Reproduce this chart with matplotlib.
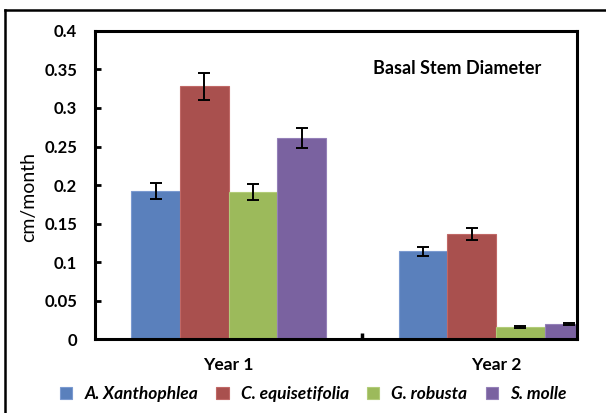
import numpy as np
import matplotlib.pyplot as plt
from matplotlib.lines import Line2D

plt.rcParams['font.family'] = ['Lato', 'DejaVu Sans']

years = ["Year 1", "Year 2"]
species = ["A. Xanthophlea", "C. equisetifolia", "G. robusta", "S. molle"]
# growth rate (cm/month) per species, Year 1 then Year 2
a_xanth = [0.192, 0.114]
c_equis = [0.328, 0.136]
g_robus = [0.191, 0.016]
s_molle = [0.261, 0.020]
# standard errors
a_xanth_err = [0.010, 0.006]
c_equis_err = [0.017, 0.008]
g_robus_err = [0.010, 0.001]
s_molle_err = [0.013, 0.0015]

colors = ['#5a80bc', '#a9504e', '#9cba5b', '#7a62a0']
edges = ['#7b9ad0', '#c06866', '#b2cc78', '#9480b8']

fig = plt.figure(figsize=(6.06, 4.13), dpi=100)
ax = fig.add_axes([0.157, 0.179, 0.795, 0.746])

x = np.arange(len(years))
w = 0.182
series = [a_xanth, c_equis, g_robus, s_molle]
errs = [a_xanth_err, c_equis_err, g_robus_err, s_molle_err]
for i, (vals, err) in enumerate(zip(series, errs)):
    pos = x + (i - 1.5) * w
    ax.bar(pos, vals, w, color=colors[i], edgecolor=edges[i], lw=0.8,
           label=species[i], zorder=2)
    ax.errorbar(pos, vals, yerr=err, fmt='none', ecolor='black',
                elinewidth=1.4, capsize=4, capthick=1.4, zorder=3)

ax.set_xlim(-0.499, 1.303)
ax.set_ylim(0, 0.4)
ax.set_yticks(np.arange(0, 0.401, 0.05))
ax.set_yticklabels(["0", "0.05", "0.1", "0.15", "0.2", "0.25", "0.3",
                    "0.35", "0.4"], fontsize=12, fontweight='bold')
ax.set_xticks(x)
ax.set_xticklabels(years, fontsize=12.5, fontweight='bold')
ax.set_xticks([0.5], minor=True)
ax.tick_params(axis='x', which='major', length=0, pad=13)
ax.tick_params(axis='x', which='minor', direction='in', length=4, width=2.5)
ax.tick_params(axis='y', direction='in', length=4, width=2, pad=13)
for s in ax.spines.values():
    s.set_linewidth(2.2)

ax.set_ylabel("cm/month", fontsize=14)
ax.yaxis.set_label_coords(-0.12, 0.461)
ax.text(0.577, 0.86, "Basal Stem Diameter", transform=ax.transAxes,
        fontsize=13, fontweight='bold')

handles, labels = ax.get_legend_handles_labels()
leg = fig.legend(handles, labels, loc='center', bbox_to_anchor=(0.517, 0.045),
                 ncol=4, frameon=False, handlelength=0.7, handleheight=0.7,
                 handletextpad=0.7, columnspacing=1.05,
                 prop={'size': 12.5, 'weight': 'bold', 'style': 'italic'})

# outer frame, only its top and left edges are on the canvas
fig.add_artist(Line2D([0.0075, 1.0], [0.976, 0.976], color='black', lw=1.8,
                      transform=fig.transFigure))
fig.add_artist(Line2D([0.0075, 0.0075], [0.0, 0.976], color='black', lw=1.8,
                      transform=fig.transFigure))

fig.savefig('out.png', dpi=100)
